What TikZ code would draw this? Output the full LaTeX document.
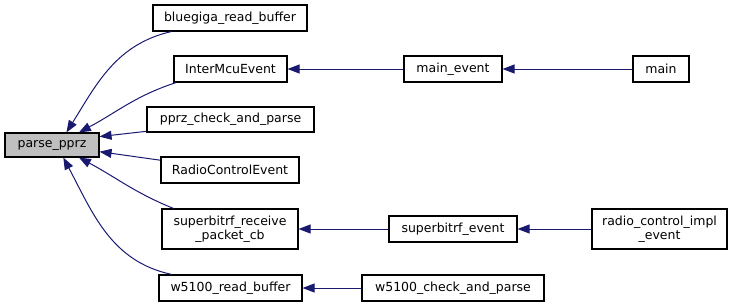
\documentclass[tikz,border=0pt]{standalone}
\usepackage{fontspec}
\setmainfont{DejaVu Sans}
\usetikzlibrary{arrows.meta}
\definecolor{edgeblue}{HTML}{191970}
\definecolor{rootgray}{HTML}{BFBFBF}
\begin{document}
\begin{tikzpicture}[x=1bp,y=1bp,
  fn/.style={draw=black, line width=1.1bp, fill=white, inner sep=0pt,
    minimum height=26bp, align=center,
    font=\fontsize{12.5bp}{14.5bp}\selectfont},
  root/.style={fn, fill=rootgray},
  call/.style={draw=edgeblue, line width=1bp,
    {Triangle[length=12bp,width=9bp]}-}
]
\useasboundingbox (0,0) rectangle (736,307);

% functions, from the traced one out to its callers
\node[root, minimum width=94bp, minimum height=24bp] (parse) at (52,162) {parse\_pprz};

\node[fn, minimum width=154bp] (blue)  at (230,289)   {bluegiga\_read\_buffer};
\node[fn, minimum width=113bp] (imcu)  at (230.5,238) {InterMcuEvent};
\node[fn, minimum width=167bp, minimum height=25bp] (pchk) at (230.5,187.5) {pprz\_check\_and\_parse};
\node[fn, minimum width=138bp] (rce)   at (230,137)   {RadioControlEvent};
\node[fn, minimum width=136bp, minimum height=40bp] (sbrx) at (230,78) {superbitrf\_receive\\\_packet\_cb};
\node[fn, minimum width=143bp] (wrb)   at (230.5,19)  {w5100\_read\_buffer};

\node[fn, minimum width=98bp]  (mev)   at (453,238)   {main\_event};
\node[fn, minimum width=56bp]  (main)  at (661,238)   {main};
\node[fn, minimum width=128bp] (sbev)  at (453,78)    {superbitrf\_event};
\node[fn, minimum width=135bp, minimum height=40bp] (rcimpl) at (659.5,78) {radio\_control\_impl\\\_event};
\node[fn, minimum width=182bp] (wchk)  at (453,19)    {w5100\_check\_and\_parse};

% call edges, arrow at the callee
\draw[call] (parse.41)  to[out=58,in=193]  (blue.193);
\draw[call] (parse.25)  to[out=28,in=198]  (imcu.194);
\draw[call] (parse.10)  -- (pchk.188);
\draw[call] (parse.-8)  -- (rce.172);
\draw[call] (parse.-25) to[out=-28,in=158] (sbrx.160);
\draw[call] (parse.-48) to[out=-62,in=168] (wrb.167);

\draw[call] (imcu.east) -- (mev.west);
\draw[call] (mev.east)  -- (main.west);
\draw[call] (sbrx.east) -- (sbev.west);
\draw[call] (sbev.east) -- (rcimpl.west);
\draw[call] (wrb.east)  -- (wchk.west);
\end{tikzpicture}
\end{document}
